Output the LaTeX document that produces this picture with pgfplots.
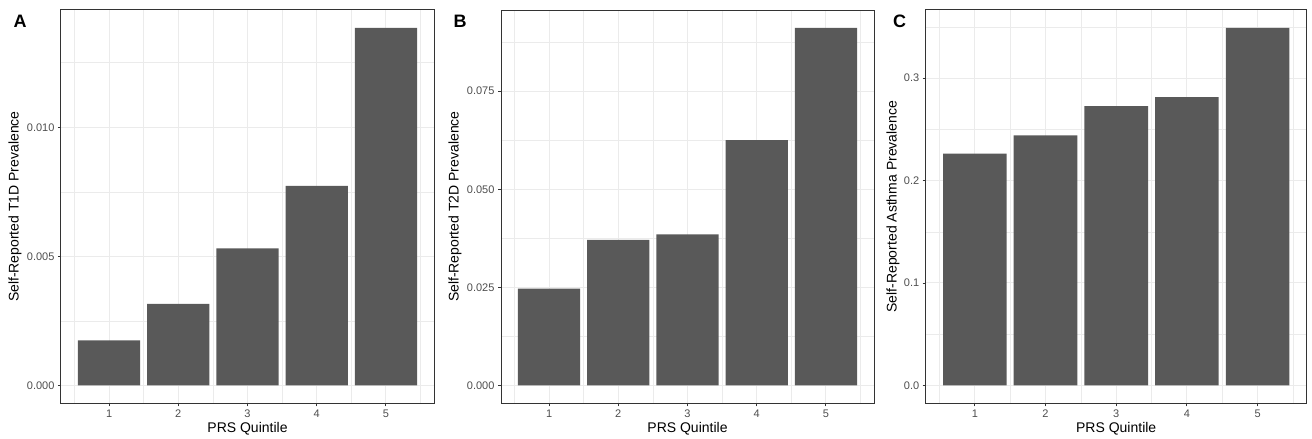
\documentclass[border=0pt]{standalone}
\usepackage{fontspec}
\setmainfont{Liberation Sans}
\usepackage{pgfplots}
\pgfplotsset{compat=1.18}
\definecolor{bargray}{HTML}{595959}
\definecolor{gridgray}{HTML}{EBEBEB}
\definecolor{framegray}{HTML}{333333}
\definecolor{ticktext}{HTML}{4D4D4D}
\pgfplotsset{
  prs/.style={
    scale only axis, width=373pt, height=393.3pt, anchor=south west,
    xmin=0.305, xmax=5.695,
    xtick={1,2,3,4,5}, minor xtick={0.5,1.5,2.5,3.5,4.5,5.5},
    scaled y ticks=false,
    grid=both,
    major grid style={gridgray, line width=1pt},
    minor grid style={gridgray, line width=0.5pt},
    axis line style={framegray, line width=1pt},
    tick pos=left, tick align=outside,
    major tick length=3pt, minor tick length=0pt,
    tick style={framegray, line width=0.9pt},
    ticklabel style={font=\fontsize{11}{13}\selectfont, text=ticktext},
    /pgf/number format/assume math mode=true,
    xlabel={PRS Quintile},
    label style={font=\fontsize{14}{16}\selectfont},
    xlabel style={at={(rel axis cs:0.5,-0.0653)}, anchor=center},
    ybar, bar width=0.9,
  },
}
\begin{document}
\begin{tikzpicture}
\useasboundingbox (0,0) rectangle (1312pt,439pt);

% A: T1D
\begin{axis}[prs, at={(61pt,35.7pt)},
    ymin=-0.000693, ymax=0.01454,
    ytick={0,0.005,0.01}, yticklabels={0.000,0.005,0.010},
    minor ytick={0.0025,0.0075,0.0125},
    ylabel={Self-Reported T1D Prevalence},
    ylabel style={at={(rel axis cs:-0.1233,0.5)}, anchor=center},
  ]
  \addplot[fill=bargray, draw=none] coordinates {
    (1,0.00174) (2,0.00316) (3,0.00531) (4,0.00773) (5,0.01385)
  };
\end{axis}

% B: T2D
\begin{axis}[prs, at={(501pt,35.7pt)},
    ymin=-0.00456, ymax=0.0957,
    ytick={0,0.025,0.05,0.075}, yticklabels={0.000,0.025,0.050,0.075},
    minor ytick={0.0125,0.0375,0.0625,0.0875},
    ylabel={Self-Reported T2D Prevalence},
    ylabel style={at={(rel axis cs:-0.1233,0.5)}, anchor=center},
  ]
  \addplot[fill=bargray, draw=none] coordinates {
    (1,0.02467) (2,0.03713) (3,0.0385) (4,0.06256) (5,0.09115)
  };
\end{axis}

% C: asthma
\begin{axis}[prs, at={(925.7pt,35.7pt)}, width=381pt,
    ymin=-0.01745, ymax=0.3665,
    ytick={0,0.1,0.2,0.3}, yticklabels={0.0,0.1,0.2,0.3},
    minor ytick={0.05,0.15,0.25,0.35},
    ylabel={Self-Reported Asthma Prevalence},
    ylabel style={at={(rel axis cs:-0.0858,0.5)}, anchor=center},
  ]
  \addplot[fill=bargray, draw=none] coordinates {
    (1,0.2263) (2,0.2441) (3,0.2727) (4,0.2814) (5,0.349)
  };
\end{axis}

\node[font=\bfseries\fontsize{18}{18}\selectfont] at (20pt,418pt) {A};
\node[font=\bfseries\fontsize{18}{18}\selectfont] at (460pt,418pt) {B};
\node[font=\bfseries\fontsize{18}{18}\selectfont] at (899.5pt,418pt) {C};
\end{tikzpicture}
\end{document}
